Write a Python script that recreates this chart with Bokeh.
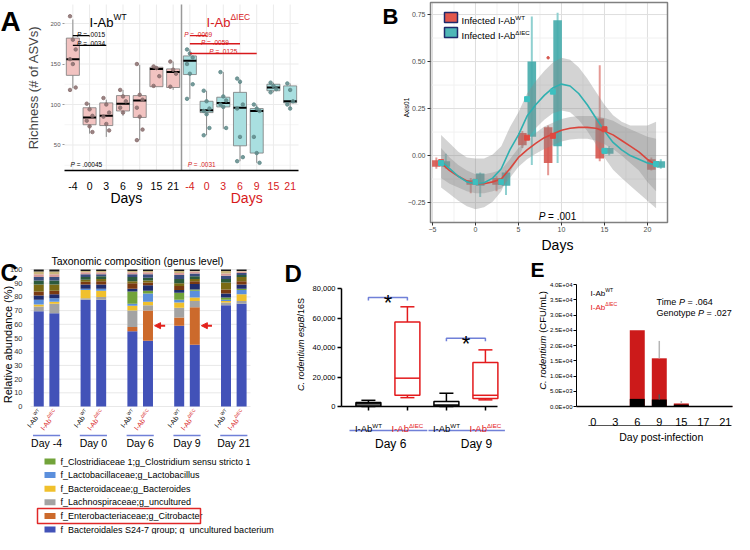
import math
import numpy as np
from bokeh.plotting import figure
from bokeh.models import (Range1d, Label, FixedTicker, Arrow, NormalHead, BoxAnnotation,
                          ColumnDataSource, LinearAxis, NumeralTickFormatter)
from bokeh.embed import file_html
from bokeh.resources import INLINE

FONT = "Liberation Sans"
RED = "#d7191c"
BLUE_LINE = "#7080d8"

# ======================= DATA =======================
# ---- Panel A : richness (# of ASVs) box plots
A_days = ["-4", "0", "3", "6", "9", "15", "21"]
A_wt_lo = [120, 64, 60, 86, 56, 122, 118]
A_wt_q1 = [136, 75, 74, 92, 84, 122, 121]
A_wt_med = [156, 84, 86, 101, 105, 144, 140]
A_wt_q3 = [182, 96, 102, 111, 111, 146, 144]
A_wt_hi = [205, 102, 106, 118, 149, 147, 153]
A_wt_pts = [[209, 180, 168, 156, 150, 121, 118], [101, 94, 86, 80, 73, 66],
            [108, 100, 90, 85, 76, 68], [118, 110, 104, 96, 90],
            [150, 112, 106, 96, 85, 69, 56], [147, 145, 135, 123], [153, 143, 138, 122]]
A_ko_lo = [107, 62, 70, 30, 28, 115, 95]
A_ko_q1 = [137, 90, 97, 49, 40, 117, 102]
A_ko_med = [154, 93, 102, 96, 92, 121, 104]
A_ko_q3 = [160, 104, 109, 115, 95, 125, 123]
A_ko_hi = [168, 117, 140, 131, 100, 127, 126]
A_ko_pts = [[168, 163, 158, 150, 138, 125, 107], [117, 104, 95, 92, 88, 71, 62],
            [140, 110, 105, 100, 97, 71], [132, 128, 100, 95, 60, 35, 30],
            [100, 95, 92, 60, 40, 28], [127, 123, 119, 115], [126, 118, 104, 100, 95]]
A_wt_tests = [(".0015", 0, 1), (".0034", 0, 2)]          # (p, from-day-index, to-day-index)
A_ko_tests = [(".0069", 0, 1), (".0059", 0, 3), (".0125", 0, 4)]
A_wt_overall = ".00045"
A_ko_overall = ".0031"

# ---- Panel B : Axis01 over time
B_days = [-4, 0, 3, 6, 9, 15, 21]
B_wt_lo = [-0.07, -0.20, -0.19, 0.04, -0.105, -0.03, -0.08]
B_wt_q1 = [-0.06, -0.155, -0.155, 0.055, -0.04, -0.015, -0.075]
B_wt_q3 = [-0.025, -0.13, -0.12, 0.12, 0.15, 0.197, -0.02]
B_wt_hi = [-0.01, -0.12, -0.11, 0.13, 0.16, 0.48, -0.01]
B_wt_mean = [-0.035, -0.14, -0.14, 0.095, 0.105, 0.14, -0.045]
B_wt_outlier_day = [9]
B_wt_outlier = [0.52]
B_ko_lo = [-0.07, -0.22, -0.21, -0.05, -0.04, 0.0, -0.07]
B_ko_q1 = [-0.06, -0.16, -0.16, 0.10, 0.05, 0.01, -0.065]
B_ko_q3 = [-0.03, -0.095, -0.09, 0.50, 0.72, 0.04, -0.03]
B_ko_hi = [0.01, -0.09, -0.08, 0.74, 0.76, 0.05, -0.02]
B_ko_mean = [-0.04, -0.14, -0.14, 0.30, 0.34, 0.025, -0.045]
B_fit_days = [-4, -3, -2, -1, 0, 1, 2, 3, 4, 5, 6, 7, 8, 9, 10, 11, 12, 13, 14, 15, 16, 17, 18, 19, 20, 21]
B_wt_fit = [-0.04, -0.08, -0.11, -0.135, -0.15, -0.15, -0.14, -0.125, -0.07, -0.01, 0.03, 0.065, 0.095,
            0.115, 0.135, 0.145, 0.15, 0.15, 0.145, 0.13, 0.11, 0.08, 0.05, 0.02, -0.02, -0.05]
B_wt_se = [0.08, 0.07, 0.06, 0.055, 0.05, 0.05, 0.05, 0.05, 0.05, 0.05, 0.05, 0.055, 0.06,
           0.06, 0.06, 0.06, 0.06, 0.06, 0.065, 0.07, 0.075, 0.08, 0.09, 0.1, 0.12, 0.14]
B_ko_fit = [-0.03, -0.07, -0.11, -0.14, -0.15, -0.145, -0.12, -0.07, 0.03, 0.11, 0.21, 0.27, 0.32,
            0.36, 0.38, 0.37, 0.33, 0.27, 0.20, 0.13, 0.07, 0.03, 0.0, -0.02, -0.04, -0.05]
B_ko_se = [0.14, 0.135, 0.13, 0.13, 0.135, 0.13, 0.125, 0.12, 0.12, 0.12, 0.12, 0.125, 0.13,
           0.135, 0.14, 0.14, 0.14, 0.14, 0.14, 0.14, 0.145, 0.15, 0.16, 0.18, 0.2, 0.23]
B_p = ".001"

# ---- Panel C : taxonomic composition (genus level), % per bar
C_groups = ["Day -4", "Day 0", "Day 6", "Day 9", "Day 21"]
C_taxa = ["f_Bacteroidales S24-7 group; g_uncultured bacterium",
          "f_Enterobacteriaceae;g_Citrobacter",
          "f_Lachnospiraceae;g_uncultured",
          "f_Bacteroidaceae;g_Bacteroides",
          "f_Lactobacillaceae;g_Lactobacillus",
          "f_Clostridiaceae 1;g_Clostridium sensu stricto 1"]
C_s24 = [69.5, 68, 78, 78, 55, 48, 59, 45, 74, 75]
C_citro = [0, 0, 0, 0, 3, 22, 6, 27.5, 0, 0]
C_lachno = [3.5, 7, 1, 2, 12, 4, 7, 4.5, 2, 2]
C_bacteroides = [1.5, 1.5, 6, 4.5, 3.5, 2.5, 4, 2.5, 1, 5]
C_lacto = [3.5, 2.5, 1, 1.5, 1.5, 6, 2, 5, 1, 3]
C_clostridium = [0, 0, 0, 0, 9, 2, 5, 1, 1.5, 1]
C_other1 = [3, 3, 3, 3, 2, 4, 2, 4, 3, 3]
C_other2 = [3, 2.5, 2, 2.5, 4, 2, 3, 2, 3, 2.5]
C_other3 = [5, 4.5, 1.5, 1.5, 1.5, 1.5, 2, 1.5, 5, 3]
C_other4 = [3, 3, 2, 2, 3, 2, 3, 2, 2.5, 1.5]
C_other5 = [2.5, 2.5, 2, 1.5, 2, 2.5, 3, 2, 2.5, 1.5]
C_other6 = [2, 2, 1.5, 1.5, 1.5, 1.5, 1.5, 1.5, 1.5, 1]
C_other7 = [2, 2, 1, 1, 1, 1, 1.5, 0.5, 2, 0.5]
C_other8 = [1.5, 1.5, 1, 1, 1, 1, 1, 1, 1, 1]
C_title = "Taxonomic composition (genus level)"

# ---- Panel D : C. rodentium espB/16S
D_min = [0, 6000, 0, 4500]
D_q1 = [400, 7600, 300, 5400]
D_med = [1800, 19200, 1000, 7600]
D_q3 = [2700, 57300, 3400, 29800]
D_max = [4200, 67600, 9000, 38400]
D_geno = ["WT", "KO", "WT", "KO"]
D_days = ["Day 6", "Day 9"]

# ---- Panel E : CFU/mL over days post-infection
E_days = ["0", "3", "6", "9", "15", "17", "21"]
E_ko = [150, 150, 25000, 15800, 1000, 150, 150]
E_ko_err = [float("nan"), float("nan"), float("nan"), 21500, 1800, float("nan"), float("nan")]
E_wt = [0, 0, 2500, 2300, 600, 0, 0]
E_wt_err = [float("nan"), float("nan"), float("nan"), 4000, float("nan"), float("nan"), float("nan")]
E_stats = [("Time", ".064"), ("Genotype", ".027")]

# ======================= CANVAS & HELPERS =======================
W, H = 734, 534
p = figure(width=W, height=H, x_range=Range1d(0, W), y_range=Range1d(0, H),
           x_axis_type=None, y_axis_type=None, output_backend="svg", toolbar_location=None,
           min_border=0, min_border_left=0, min_border_right=0, min_border_top=0,
           min_border_bottom=0)
p.outline_line_color = None
p.background_fill_color = "white"
p.border_fill_color = "white"
p.title.visible = False

AW = {' ': 278, '!': 278, '%': 889, '(': 333, ')': 333, '*': 389, '+': 584, ',': 278, '-': 333,
      '.': 278, '/': 278, ':': 278, ';': 278, '=': 584, '#': 556, '_': 556, 'Δ': 667, '−': 584}
for ch in "0123456789":
    AW[ch] = 556
AW.update(dict(zip("ABCDEFGHIJKLMNOPQRSTUVWXYZ",
                   [667, 667, 722, 722, 667, 611, 778, 722, 278, 500, 667, 556, 833, 722, 778, 667,
                    778, 722, 667, 611, 722, 667, 944, 667, 667, 611])))
AW.update(dict(zip("abcdefghijklmnopqrstuvwxyz",
                   [556, 556, 500, 556, 556, 278, 556, 556, 222, 222, 500, 222, 833, 556, 556, 556,
                    556, 333, 500, 278, 556, 500, 722, 500, 500, 500])))
GEO = {}


def tw(s, size):
    return sum(AW.get(c, 556) for c in s) * size / 1000.0


def panel(name, x0, x1, px0, px1, y0, y1, pyb, pyt):
    """data x0..x1 -> page px0..px1 ; data y0..y1 -> page rows pyb (bottom) .. pyt (top)"""
    ux = (x1 - x0) / (px1 - px0)
    uy = (y1 - y0) / (pyb - pyt)
    p.extra_x_ranges[name] = Range1d(x0 - px0 * ux, x1 + (W - px1) * ux)
    p.extra_y_ranges[name] = Range1d(y0 - (H - pyb) * uy, y1 + pyt * uy)
    GEO[name] = (x0, px0, ux, y0, pyb, uy)


def PY(name, py):
    _, _, _, y0, pyb, uy = GEO[name]
    return y0 + (pyb - py) * uy


def RN(name):
    return dict(x_range_name=name, y_range_name=name) if name else {}


def rich(x, y, segs, size, rn=None, color="black", angle=0.0, align="left", vmid=True,
         dy=0.0, sup_scale=0.65):
    items, total = [], 0.0
    for t, kind in segs:
        fs = size * (sup_scale if kind.startswith("s") else 1.0)
        lead = len(t) - len(t.lstrip(" "))
        items.append((t.strip(" "), kind, fs, total + tw(" " * lead, fs)))
        total += tw(t, fs)
    start = {"left": 0.0, "center": -total / 2.0, "right": -total}[align]
    base = (-0.36 * size if vmid else 0.0) + dy
    ca, sa = math.cos(angle), math.sin(angle)
    for t, kind, fs, d in items:
        r = base + (0.40 * size if kind.startswith("s") else 0.0)
        along = start + d
        p.add_layout(Label(x=x, y=y, text=t, x_offset=along * ca - r * sa,
                           y_offset=along * sa + r * ca, angle=angle, text_font=FONT,
                           text_font_size=f"{fs:.2f}px", text_color=color,
                           text_font_style="italic" if kind in ("i", "si") else "normal",
                           text_align="left", text_baseline="alphabetic", **RN(rn)))


def lab(x, y, text, size, rn=None, color="black", align="center", baseline="middle",
        style="normal", angle=0.0, yoff=0.0):
    p.add_layout(Label(x=x, y=y, text=text, text_font=FONT, text_font_size=f"{size}px",
                       text_color=color, text_align=align, text_baseline=baseline,
                       text_font_style=style, angle=angle, y_offset=yoff, **RN(rn)))


def pbox(px0, px1, py0, py1, fill=None, line=None, lw=1.0):
    """box in page pixels (py measured from the top)"""
    p.add_layout(BoxAnnotation(left=px0, right=px1, top=H - py0, bottom=H - py1,
                               fill_color=fill, fill_alpha=1.0 if fill else 0.0,
                               line_color=line, line_width=lw, line_alpha=1.0 if line else 0.0))


def add_axis(side, rn, fixed, bounds, ticks, size, **kw):
    ax = LinearAxis(x_range_name=rn, y_range_name=rn, fixed_location=fixed, bounds=bounds,
                    ticker=FixedTicker(ticks=ticks), major_label_text_font=FONT,
                    major_label_text_font_size=size, axis_label_text_font=FONT,
                    axis_label_text_font_style="normal", minor_tick_line_color=None,
                    major_label_text_color="black")
    for k, v in kw.items():
        setattr(ax, k, v)
    p.add_layout(ax, side)
    return ax


def letter(t, px, py_base, size):
    lab(px, H - py_base, t, size, align="left", baseline="alphabetic", style="bold")


WT_SEG = [("I-Ab", "n"), ("WT", "s")]
KO_SEG = [("I-Ab", "n"), ("ΔIEC", "s")]

# ======================= PANEL A =======================
nA = len(A_days)
A_X, A_Y = (0, 2 * nA), (18.5, 223.5)
panel("A", A_X[0], A_X[1], 64, 298, A_Y[0], A_Y[1], 170, 4)
posA = [i + 0.5 for i in range(2 * nA)]
for vals, col in [([25, 75, 125, 175], "#f5f5f5"), ([50, 100, 150, 200], "#ebebeb")]:
    p.segment(x0=[A_X[0]] * len(vals), y0=vals, x1=[A_X[1]] * len(vals), y1=vals,
              line_color=col, line_width=1, **RN("A"))
p.segment(x0=posA, y0=[A_Y[0]] * len(posA), x1=posA, y1=[A_Y[1]] * len(posA),
          line_color="#ebebeb", line_width=1, **RN("A"))
p.segment(x0=[nA], y0=[A_Y[0]], x1=[nA], y1=[A_Y[1]], line_color="#9a9a9a", line_width=1.5,
          **RN("A"))


def boxes_A(off, lo, q1, med, q3, hi, pts, fill, ptcol):
    xs = [off + i + 0.5 for i in range(len(lo))]
    hw = 0.39
    p.segment(x0=xs, y0=lo, x1=xs, y1=q1, line_color="#8c8c8c", line_width=1, **RN("A"))
    p.segment(x0=xs, y0=q3, x1=xs, y1=hi, line_color="#8c8c8c", line_width=1, **RN("A"))
    p.quad(left=[x - hw for x in xs], right=[x + hw for x in xs], bottom=q1, top=q3,
           fill_color=fill, line_color="#7a7a7a", line_width=0.8, **RN("A"))
    p.segment(x0=[x - hw for x in xs], y0=med, x1=[x + hw for x in xs], y1=med,
              line_color="black", line_width=2, **RN("A"))
    px, py = [], []
    for i, vals in enumerate(pts):
        for k, v in enumerate(vals):
            px.append(xs[i] + ((k % 3) - 1) * 0.17)
            py.append(v)
    p.scatter(px, py, size=3.5, color=ptcol, alpha=0.85, **RN("A"))


boxes_A(0, A_wt_lo, A_wt_q1, A_wt_med, A_wt_q3, A_wt_hi, A_wt_pts, "#f2c3c1", "#8a6f6f")
boxes_A(nA, A_ko_lo, A_ko_q1, A_ko_med, A_ko_q3, A_ko_hi, A_ko_pts, "#a9dfe0", "#5f8a8a")

add_axis("below", "A", A_Y[0], A_X, posA, "10.5px",
         major_label_overrides={posA[i]: (A_days[i] if i < nA else "") for i in range(2 * nA)},
         axis_line_color="black", axis_line_width=1.3, major_tick_line_color=None,
         major_label_standoff=5)
add_axis("below", "A", A_Y[0], A_X, posA, "10.5px",
         major_label_overrides={posA[i]: (A_days[i - nA] if i >= nA else "") for i in range(2 * nA)},
         axis_line_color=None, major_tick_line_color=None, major_label_standoff=5,
         major_label_text_color=RED)
add_axis("left", "A", A_X[0], A_Y, [50, 100, 150, 200], "6px", axis_line_color=None,
         major_tick_line_color="#999999", major_tick_out=2, major_tick_in=0,
         major_label_text_color="#555555", major_label_standoff=2,
         axis_label="Richness (# of ASVs)", axis_label_text_font_size="13px",
         axis_label_standoff=6)
lab(3.7, PY("A", 197), "Days", 14, rn="A")
lab(nA + 3.9, PY("A", 197), "Days", 14, rn="A", color=RED)
rich(1.5, 207.4, WT_SEG, 13, rn="A")
rich(nA + 1.5, 207.4, KO_SEG, 13, rn="A", color=RED)
for (pv, a, b), yb in zip(A_wt_tests, [185, 173]):
    p.line([a + 0.5, b + 0.5], [yb, yb], line_color="black", line_width=1.3, **RN("A"))
    rich(a + 0.75, yb, [("P", "i"), (" = " + pv, "n")], 6.5, rn="A", vmid=False, dy=1.5)
for (pv, a, b), yb in zip(A_ko_tests, [185, 175, 163]):
    p.line([nA + a + 0.5, nA + b + 0.5], [yb, yb], line_color=RED, line_width=1.3, **RN("A"))
    rich(nA + a + 0.5 + (b - a) * 0.5, yb, [("P", "i"), (" = " + pv, "n")], 6.5, rn="A",
         color=RED, vmid=False, dy=1.5, align="center")
rich(0.36, 28.4, [("P", "i"), (" = " + A_wt_overall, "n")], 6.5, rn="A")
rich(nA + 0.37, 28.4, [("P", "i"), (" = " + A_ko_overall, "n")], 6.5, rn="A", color=RED)
letter("A", 0, 21, 28)

# ======================= PANEL B =======================
B_X, B_Y = (-5.23, 22.33), (-0.356, 0.814)
panel("B", B_X[0], B_X[1], 430, 667, B_Y[0], B_Y[1], 222, 2)
bx_major, bx_minor = [-5, 0, 5, 10, 15, 20], [-2.5, 2.5, 7.5, 12.5, 17.5]
by_major, by_minor = [-0.25, 0, 0.25, 0.5, 0.75], [-0.125, 0.125, 0.375, 0.625]
for vals, col in [(bx_minor, "#f1f1f1"), (bx_major, "#dedede")]:
    p.segment(x0=vals, y0=[B_Y[0]] * len(vals), x1=vals, y1=[B_Y[1]] * len(vals),
              line_color=col, line_width=1, **RN("B"))
for vals, col in [(by_minor, "#f1f1f1"), (by_major, "#dedede")]:
    p.segment(x0=[B_X[0]] * len(vals), y0=vals, x1=[B_X[1]] * len(vals), y1=vals,
              line_color=col, line_width=1, **RN("B"))

B_RED, B_TEAL = "#d6574f", "#44abab"
xw = np.array(B_days) - 0.55
xk = np.array(B_days) + 0.55
p.segment(xw, B_wt_lo, xw, B_wt_hi, line_color="#e59a95", line_width=2, **RN("B"))
p.segment(xk, B_ko_lo, xk, B_ko_hi, line_color="#8fd0d0", line_width=2, **RN("B"))
p.quad(left=xw - 0.5, right=xw + 0.5, bottom=B_wt_q1, top=B_wt_q3, fill_color=B_RED,
       fill_alpha=0.9, line_color=None, **RN("B"))
p.quad(left=xk - 0.5, right=xk + 0.5, bottom=B_ko_q1, top=B_ko_q3, fill_color=B_TEAL,
       fill_alpha=0.9, line_color=None, **RN("B"))
p.scatter(np.array(B_wt_outlier_day) - 0.55, B_wt_outlier, size=2.5, color=B_RED, **RN("B"))
fx = np.array(B_fit_days, dtype=float)
ko_fit, ko_se = np.array(B_ko_fit), np.array(B_ko_se)
wt_fit, wt_se = np.array(B_wt_fit), np.array(B_wt_se)
p.varea(x=fx, y1=ko_fit - ko_se, y2=ko_fit + ko_se, fill_color="#8c8c8c", fill_alpha=0.38, **RN("B"))
p.varea(x=fx, y1=wt_fit - wt_se, y2=wt_fit + wt_se, fill_color="#8c8c8c", fill_alpha=0.38, **RN("B"))
p.line(fx, wt_fit, line_color="#d9453c", line_width=1.6, **RN("B"))
p.line(fx, ko_fit, line_color="#2fb0b0", line_width=1.6, **RN("B"))
p.scatter(B_days, B_wt_mean, marker="square", size=5, color="#e0483f", **RN("B"))
p.scatter(B_days, B_ko_mean, marker="square", size=5, color="#3cc0c0", **RN("B"))
p.quad(left=[B_X[0]], right=[B_X[1]], bottom=[B_Y[0]], top=[B_Y[1]], fill_color=None,
       line_color="#808080", line_width=1.5, **RN("B"))
add_axis("below", "B", B_Y[0], B_X, bx_major, "7px", axis_line_color=None,
         major_tick_line_color="#333333", major_tick_out=3, major_tick_in=0,
         major_label_text_color="#4d4d4d", major_label_standoff=1)
add_axis("left", "B", B_X[0], B_Y, by_major, "7px", axis_line_color=None,
         major_tick_line_color="#333333", major_tick_out=3, major_tick_in=0,
         major_label_text_color="#4d4d4d", major_label_standoff=2,
         major_label_overrides={-0.25: "−0.25", 0: "0.00", 0.25: "0.25", 0.5: "0.50", 0.75: "0.75"})
for (py0, col, seg) in [(12, "#e2574c", WT_SEG), (27, "#4fb7b7", KO_SEG)]:
    pbox(444, 457, py0, py0 + 10, fill=col, line="#1f2a6b", lw=1.5)
    rich(461, H - (py0 + 5), [("Infected ", "n")] + seg, 9.5)
rich(9.53, -0.303, [("P", "i"), (" = " + B_p, "n")], 10, rn="B", align="center")
lab(9.53, PY("B", 244), "Days", 14, rn="B")
lab(406, H - 107, "Axis01", 6.5, angle=math.pi / 2)
letter("B", 382, 16, 22)

# ======================= PANEL C =======================
C_X, C_Y = (-1.03, 13.07), (0, 102.2)
panel("C", C_X[0], C_X[1], 30, 250, C_Y[0], C_Y[1], 406, 266)
c_ticks = [0, 10, 20, 30, 40, 50, 60, 70, 80, 90, 100]
p.segment(x0=[C_X[0]] * len(c_ticks), y0=c_ticks, x1=[C_X[1]] * len(c_ticks), y1=c_ticks,
          line_color="#e8e8e8", line_width=1, **RN("C"))
c_x = [g * 3 + (-0.5 if k == 0 else 0.5) for g in range(len(C_groups)) for k in range(2)]
c_series = [C_s24, C_citro, C_lachno, C_bacteroides, C_lacto, C_clostridium,
            C_other1, C_other2, C_other3, C_other4, C_other5, C_other6, C_other7, C_other8]
c_colors = ["#4252b8", "#cc6a2c", "#a3a3a3", "#f0c02c", "#5b8fdc", "#72a33a",
            "#1f2d6e", "#7a3a12", "#7a6a14", "#2c5a3c", "#3b4d7e", "#d79b9b", "#c9b57c", "#1a1a1a"]
c_keys = [f"t{i}" for i in range(len(c_series))]
srcC = ColumnDataSource(dict(x=c_x, **{k: v for k, v in zip(c_keys, c_series)}))
p.vbar_stack(c_keys, x="x", width=0.64, color=c_colors, source=srcC, line_color=None, **RN("C"))
add_axis("left", "C", C_X[0], C_Y, c_ticks, "7.5px", axis_line_color=None,
         major_tick_line_color=None, major_label_standoff=2, major_label_text_color="#333333")
lab(7, H - 344, "Relative abundance (%)", 11, angle=math.pi / 2)
ang = math.radians(52)
for j, xb in enumerate(c_x):
    seg, col = (WT_SEG, "black") if j % 2 == 0 else (KO_SEG, RED)
    rich(xb, PY("C", 409), seg, 7, rn="C", color=col, angle=ang, align="right")
for g, name in enumerate(C_groups):
    p.segment(x0=[g * 3 - 0.87], y0=[PY("C", 435)], x1=[g * 3 + 0.87], y1=[PY("C", 435)],
              line_color=BLUE_LINE, line_width=1.5, **RN("C"))
    lab(g * 3, PY("C", 442), name, 10.5, rn="C")
lab(137, H - 260, C_title, 10.5)
for j in (5, 7):
    p.add_layout(Arrow(end=NormalHead(size=6, fill_color="#e3221c", line_color="#e3221c"),
                       x_start=c_x[j] + 1.1, y_start=59, x_end=c_x[j] + 0.42, y_end=59,
                       line_color="#e3221c", line_width=2, **RN("C")))
legend_rows = [5, 4, 3, 2, 1, 0]
for r, ti in enumerate(legend_rows):
    yy = 461 + 13.6 * r
    pbox(44, 55, yy - 3, yy + 3, fill=c_colors[ti])
    lab(60, H - yy, C_taxa[ti], 9, align="left")
    if ti == 1:
        pbox(37, 200, yy - 7.5, yy + 7.5, line="#e02828", lw=1.5)
letter("C", 0, 272, 24)

# ======================= PANEL D =======================
D_X, D_Y = (0.31, 4.31), (0, 84070)
panel("D", D_X[0], D_X[1], 341, 497, D_Y[0], D_Y[1], 406, 282)
d_x = [1, 2, 3, 4]
d_col = ["black" if g == "WT" else "#e31a1c" for g in D_geno]
hw, cw = 0.32, 0.18
p.segment(d_x, D_min, d_x, D_q1, line_color=d_col, line_width=1.5, **RN("D"))
p.segment(d_x, D_q3, d_x, D_max, line_color=d_col, line_width=1.5, **RN("D"))
p.segment([x - cw for x in d_x], D_max, [x + cw for x in d_x], D_max, line_color=d_col,
          line_width=1.5, **RN("D"))
p.segment([x - cw for x in d_x], D_min, [x + cw for x in d_x], D_min, line_color=d_col,
          line_width=1.5, **RN("D"))
p.quad(left=[x - hw for x in d_x], right=[x + hw for x in d_x], bottom=D_q1, top=D_q3,
       fill_color="white", line_color=d_col, line_width=1.5, **RN("D"))
p.segment([x - hw for x in d_x], D_med, [x + hw for x in d_x], D_med, line_color=d_col,
          line_width=1.5, **RN("D"))
for (a, b), yb in zip([(1, 2), (3, 4)], [73900, 46300]):
    p.line([a, a, b, b], [yb - 2000, yb, yb, yb - 2000], line_color=BLUE_LINE, line_width=1.5,
           **RN("D"))
    lab((a + b) / 2, yb, "*", 22, rn="D", baseline="alphabetic", yoff=-5)
add_axis("left", "D", D_X[0], (0, 80000), [0, 20000, 40000, 60000, 80000], "7.5px",
         formatter=NumeralTickFormatter(format="0,0"), axis_line_color="black",
         axis_line_width=1.5, major_tick_line_color="black", major_tick_line_width=1.5,
         major_tick_out=4, major_tick_in=0, major_label_standoff=2)
add_axis("below", "D", D_Y[0], D_X, d_x, "7px", axis_line_color="black", axis_line_width=1.5,
         major_tick_line_color="black", major_tick_line_width=1.5, major_tick_out=4,
         major_tick_in=0, major_label_text_color=None)
for x, g in zip(d_x, D_geno):
    rich(x, PY("D", 425), WT_SEG if g == "WT" else KO_SEG, 9.5, rn="D",
         color="black" if g == "WT" else "#e31a1c", align="center")
for xa, xb in [(0.515, 2.51), (2.54, 4.5)]:
    p.segment(x0=[xa], y0=[PY("D", 430)], x1=[xb], y1=[PY("D", 430)], line_color=BLUE_LINE,
              line_width=1.5, **RN("D"))
lab(1.57, PY("D", 443), D_days[0], 12, rn="D")
lab(3.77, PY("D", 443), D_days[1], 12, rn="D")
rich(297, H - 344, [("C. rodentium espB", "i"), ("/16S", "n")], 9, angle=math.pi / 2,
     align="center")
letter("D", 284, 273, 24)

# ======================= PANEL E =======================
E_X, E_Y = (-0.76, 6.325), (0, 40656)
panel("E", E_X[0], E_X[1], 576, 732, E_Y[0], E_Y[1], 406, 282)
e_x = list(range(len(E_days)))
e_ticks = [0, 5000, 10000, 15000, 20000, 25000, 30000, 35000, 40000]
p.vbar(x=e_x, top=E_ko, width=0.68, fill_color="#cc1a1a", line_color=None, **RN("E"))
p.segment(e_x, E_ko, e_x, E_ko_err, line_color="#b5b5b5", line_width=1.5, **RN("E"))
p.vbar(x=e_x, top=E_wt, width=0.68, fill_color="black", line_color=None, **RN("E"))
p.segment(e_x, E_wt, e_x, E_wt_err, line_color="#555555", line_width=1.5, **RN("E"))
add_axis("left", "E", E_X[0], (0, 40000), e_ticks, "6px",
         major_label_overrides={v: f"{v:.1E}" for v in e_ticks}, axis_line_color="black",
         major_tick_line_color="black", major_tick_out=3, major_tick_in=0,
         major_label_standoff=1)
add_axis("below", "E", E_Y[0], E_X, e_x, "11px",
         major_label_overrides={i: d for i, d in zip(e_x, E_days)}, axis_line_color="black",
         axis_line_width=1.5, major_tick_line_color=None, major_label_standoff=5)
p.segment(x0=[-0.22], y0=[PY("E", 425)], x1=[6.28], y1=[PY("E", 425)], line_color="#555555",
          line_width=1.2, **RN("E"))
lab(3.09, PY("E", 436), "Day post-infection", 10.5, rn="E")
rich(590, H - 290, WT_SEG, 8)
rich(590, H - 304, KO_SEG, 8, color="#e31a1c")
for (nm, pv), py in zip(E_stats, [298, 309]):
    rich(656, H - py, [(nm + " ", "n"), ("P", "i"), (" = " + pv, "n")], 9)
rich(539, H - 340, [("C. rodentium ", "i"), ("(CFU/mL)", "n")], 9.5, angle=math.pi / 2,
     align="center")
letter("E", 530, 269, 21)

open("out.html", "w").write(file_html(p, INLINE))
